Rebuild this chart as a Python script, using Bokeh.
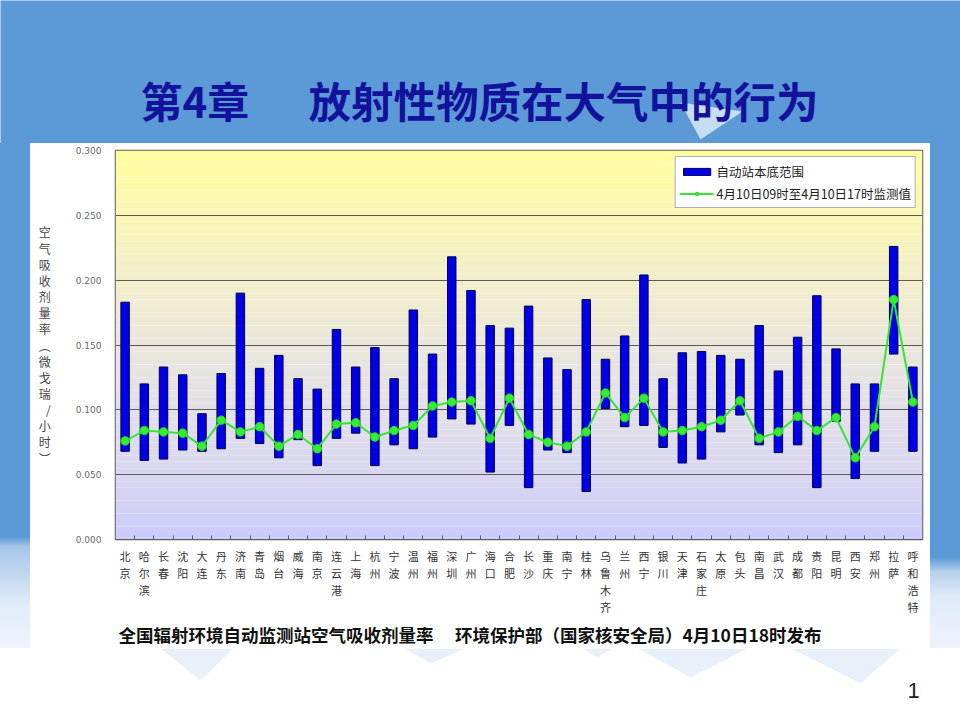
from bokeh.plotting import figure
from bokeh.models import Range1d, FixedTicker, NumeralTickFormatter, Legend, LegendItem, Title, Spacer
from bokeh.layouts import column, row
from bokeh.core.properties import value
from bokeh.embed import file_html
from bokeh.resources import INLINE

# ---------------- data ----------------
stations = ["北京", "哈尔滨", "长春", "沈阳", "大连", "丹东", "济南", "青岛", "烟台", "威海",
            "南京", "连云港", "上海", "杭州", "宁波", "温州", "福州", "深圳", "广州", "海口",
            "合肥", "长沙", "重庆", "南宁", "桂林", "乌鲁木齐", "兰州", "西宁", "银川", "天津",
            "石家庄", "太原", "包头", "南昌", "武汉", "成都", "贵阳", "昆明", "西安", "郑州",
            "拉萨", "呼和浩特"]
range_low = [0.068, 0.061, 0.062, 0.069, 0.068, 0.070, 0.078, 0.074, 0.063, 0.077,
             0.057, 0.078, 0.082, 0.057, 0.073, 0.070, 0.079, 0.093, 0.089, 0.052,
             0.088, 0.040, 0.069, 0.067, 0.037, 0.101, 0.087, 0.088, 0.071, 0.059,
             0.062, 0.083, 0.096, 0.073, 0.067, 0.073, 0.040, 0.091, 0.047, 0.068,
             0.143, 0.068]
range_high = [0.183, 0.120, 0.133, 0.127, 0.097, 0.128, 0.190, 0.132, 0.142, 0.124,
              0.116, 0.162, 0.133, 0.148, 0.124, 0.177, 0.143, 0.218, 0.192, 0.165,
              0.163, 0.180, 0.140, 0.131, 0.185, 0.139, 0.157, 0.204, 0.124, 0.144,
              0.145, 0.142, 0.139, 0.165, 0.130, 0.156, 0.188, 0.147, 0.120, 0.120,
              0.226, 0.133]
measured = [0.076, 0.084, 0.083, 0.082, 0.072, 0.092, 0.083, 0.087, 0.072, 0.081,
            0.070, 0.089, 0.090, 0.079, 0.084, 0.088, 0.103, 0.106, 0.107, 0.078,
            0.109, 0.081, 0.075, 0.072, 0.083, 0.113, 0.094, 0.109, 0.083, 0.084,
            0.087, 0.092, 0.107, 0.078, 0.083, 0.095, 0.084, 0.094, 0.063, 0.087,
            0.185, 0.106]
y_ticks = [0.0, 0.05, 0.10, 0.15, 0.20, 0.25, 0.30]

series_bar = "自动站本底范围"
series_line = "4月10日09时至4月10日17时监测值"
slide_title_a = "第4章"
slide_title_b = "放射性物质在大气中的行为"
y_label_chars = ["空", "气", "吸", "收", "剂", "量", "率", "︵", "微", "戈", "瑞", "/", "小", "时", "︶"]
caption = "全国辐射环境自动监测站空气吸收剂量率　 环境保护部（国家核安全局）4月10日18时发布"

# ---------------- styles ----------------
BLUE = "#5b9ad6"
TITLE_COLOR = "#12129c"
CJK = "Noto Sans CJK SC"
W = 960

def blank(width, height, bg):
    f = figure(width=width, height=height, x_range=Range1d(0, width), y_range=Range1d(height, 0),
               output_backend="svg", toolbar_location=None, tools="",
               x_axis_location=None, y_axis_location=None, min_border=0)
    f.grid.visible = False
    f.outline_line_color = None
    f.background_fill_color = bg
    f.border_fill_color = bg
    return f

# ---- top (title) ----
top = blank(W, 143, BLUE)
top.patch(x=[680, 742, 700], y=[102, 111, 139], fill_color="#dbe9f7", line_color=None, fill_alpha=0.85)
top.text(x=[140], y=[99], text=[slide_title_a], text_font=value(CJK), text_font_style="bold",
         text_font_size="42px", text_color=TITLE_COLOR, text_baseline="middle", text_align="left")
top.text(x=[308], y=[99], text=[slide_title_b], text_font=value(CJK), text_font_style="bold",
         text_font_size="42.5px", text_color=TITLE_COLOR, text_baseline="middle", text_align="left")

# ---- side strips ----
left = Spacer(width=30, height=505, styles={
    "background": "linear-gradient(to bottom, #5b9ad6 0%, #5b9ad6 78%, #a8c6ea 80%, "
                  "#c4d9f1 86%, #e2edf9 92%, #eef4fb 100%)"})
right = Spacer(width=30, height=505, styles={
    "background": "linear-gradient(to bottom, #5b9ad6 0%, #5b9ad6 82%, #b9d2ee 85%, "
                  "#dfeaf8 90%, #edf3fb 100%)"})

# ---- chart ----
xs = list(range(1, len(stations) + 1))
p = figure(width=900, height=505, x_range=Range1d(0.5, len(stations) + 0.5), y_range=Range1d(0, 0.3),
           output_backend="svg", toolbar_location=None, tools="",
           min_border_left=85, min_border_right=8, min_border_top=7, min_border_bottom=105)
p.border_fill_color = "white"
p.background_fill_color = "white"

# vertical gradient background (style only)
stops = [(0.00, (203, 203, 250)), (0.05, (217, 215, 241)), (0.10, (226, 224, 231)),
         (0.15, (234, 231, 219)), (0.20, (242, 238, 203)), (0.25, (250, 246, 182)),
         (0.30, (255, 253, 158))]
nb = 60
b_bot, b_top, b_col = [], [], []
for i in range(nb):
    y0 = 0.3 * i / nb
    y1 = 0.3 * (i + 1) / nb
    ym = (y0 + y1) / 2
    for (sa, ca), (sb, cb) in zip(stops[:-1], stops[1:]):
        if sa <= ym <= sb:
            t = (ym - sa) / (sb - sa)
            c = tuple(int(round(ca[k] + (cb[k] - ca[k]) * t)) for k in range(3))
            break
    b_bot.append(y0)
    b_top.append(y1)
    b_col.append("#%02x%02x%02x" % c)
p.quad(left=0.5, right=len(stations) + 0.5, bottom=b_bot, top=b_top, fill_color=b_col,
       line_color=None, level="image")

bars = p.vbar(x=xs, top=range_high, bottom=range_low, width=0.44,
              fill_color="#0000e8", line_color="#00004a", line_width=1)
ln = p.line(xs, measured, line_color="#33e633", line_width=2)
pts = p.scatter(xs, measured, marker="circle", size=8.5, fill_color="#33ee33", line_color="#2bd62b")

p.outline_line_color = "#5e5e5e"
p.outline_line_width = 1.5
p.xgrid.visible = False
p.ygrid.grid_line_color = "#5a5a5a"
p.ygrid.grid_line_width = 1.2

p.yaxis.ticker = FixedTicker(ticks=y_ticks)
p.yaxis.formatter = NumeralTickFormatter(format="0.000")
p.yaxis.axis_line_color = None
p.yaxis.major_tick_line_color = None
p.yaxis.minor_tick_line_color = None
p.yaxis.major_tick_in = 0
p.yaxis.major_tick_out = 0
p.yaxis.major_label_standoff = 14
p.yaxis.major_label_text_font = "DejaVu Sans"
p.yaxis.major_label_text_font_size = "9px"
p.yaxis.major_label_text_color = "#6a6a6a"
p.yaxis.axis_label = "\n".join(y_label_chars)
p.yaxis.axis_label_orientation = "horizontal"
p.yaxis.axis_label_text_font = CJK
p.yaxis.axis_label_text_font_style = "normal"
p.yaxis.axis_label_text_font_size = "12px"
p.yaxis.axis_label_text_line_height = 0.95
p.yaxis.axis_label_text_color = "#444444"
p.yaxis.axis_label_standoff = 22

p.xaxis.ticker = FixedTicker(ticks=xs, minor_ticks=[x + 0.5 for x in xs[:-1]])
p.xaxis.major_label_overrides = {x: "\n".join(list(name)) for x, name in zip(xs, stations)}
p.xaxis.axis_line_color = "#5e5e5e"
p.xaxis.major_tick_line_color = None
p.xaxis.major_tick_in = 0
p.xaxis.major_tick_out = 0
p.xaxis.minor_tick_line_color = "#5e5e5e"
p.xaxis.minor_tick_in = 4
p.xaxis.minor_tick_out = 0
p.xaxis.major_label_standoff = 8
p.xaxis.major_label_text_font = CJK
p.xaxis.major_label_text_font_size = "11px"
p.xaxis.major_label_text_line_height = 1.08
p.xaxis.major_label_text_color = "#333333"

legend = Legend(items=[LegendItem(label=series_bar, renderers=[bars]),
                       LegendItem(label=series_line, renderers=[ln, pts])],
                location="top_right")
legend.margin = 6
legend.padding = 4
legend.spacing = 2
legend.glyph_width = 34
legend.glyph_height = 9
legend.label_height = 20
legend.label_standoff = 3
legend.label_text_font = CJK
legend.label_text_font_size = "12.5px"
legend.label_text_color = "#222222"
legend.border_line_color = "#5e5e5e"
legend.border_line_width = 1.2
legend.background_fill_color = "white"
legend.background_fill_alpha = 1.0
p.add_layout(legend)

cap = Title(text=caption, align="left", offset=3, text_font=CJK, text_font_style="bold",
            text_font_size="17.5px", text_color="#111111")
cap.standoff = 3
p.add_layout(cap, "below")

# ---- bottom ----
bottom = blank(W, 72, "white")
for tx, ty in [([160, 233, 200], [0, 0, 32]), ([404, 465, 430], [0, 0, 15]),
               ([582, 612, 597], [0, 0, 9]), ([637, 747, 690], [0, 0, 29]),
               ([790, 900, 860], [0, 0, 35])]:
    bottom.patch(x=tx, y=ty, fill_color="#e8f0fa", line_color=None)
bottom.text(x=[913], y=[42], text=["1"], text_font=value("Liberation Sans"), text_font_size="22px",
            text_color="#222222", text_baseline="middle", text_align="center")

layout = column(top, row(left, p, right), bottom)
open("out.html", "w").write(file_html(layout, INLINE))
